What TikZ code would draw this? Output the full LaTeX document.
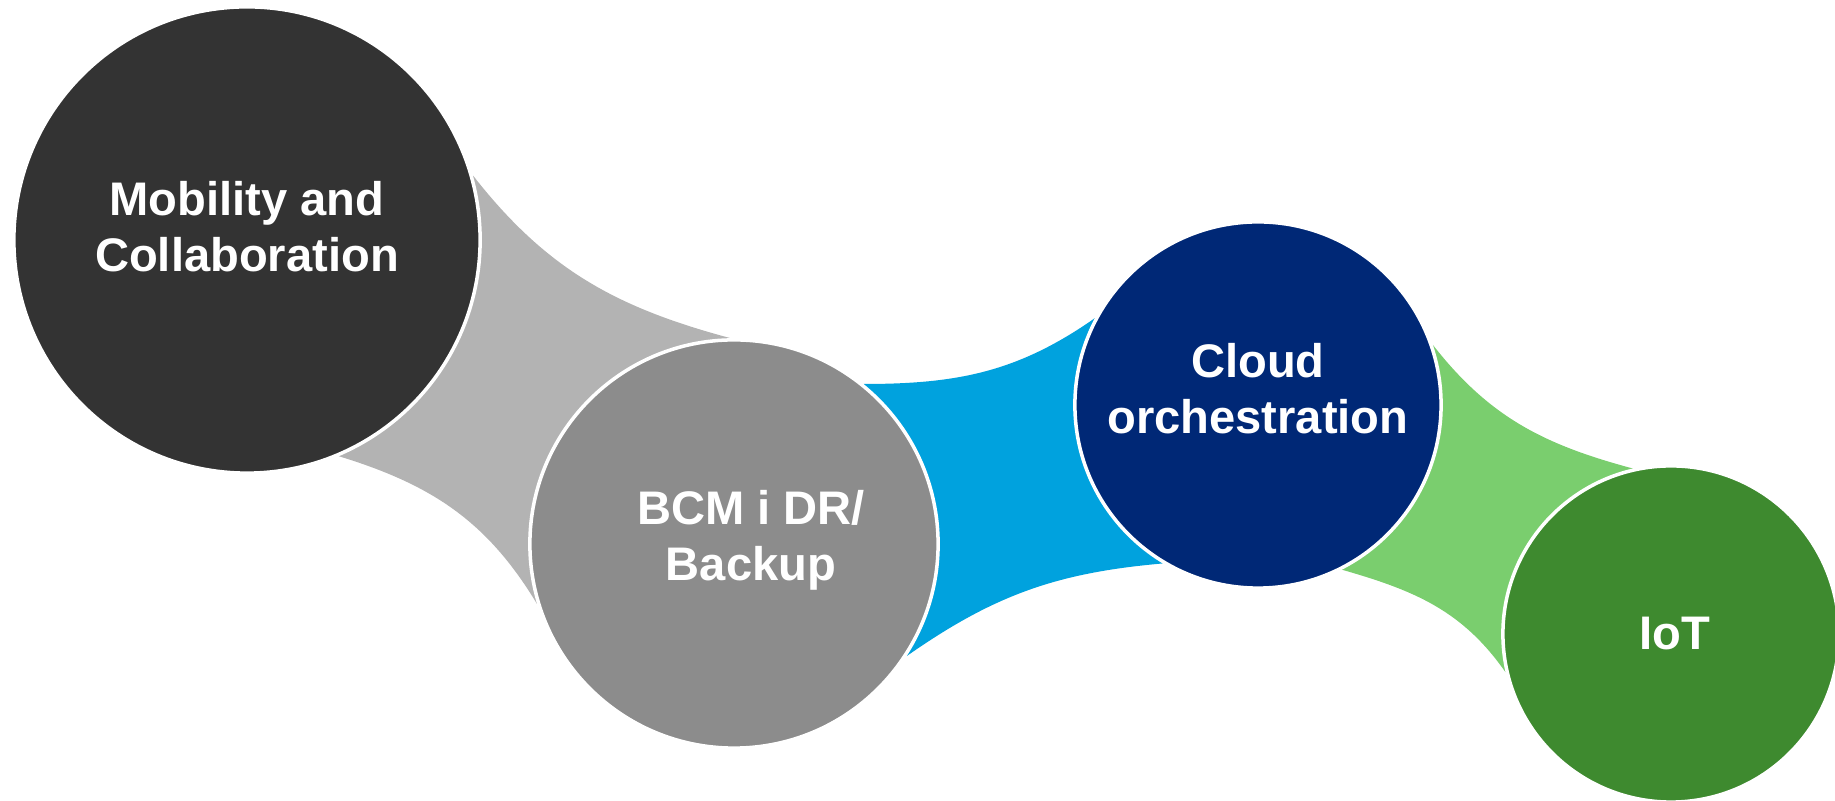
\documentclass[tikz,border=0pt]{standalone}
\usepackage{fontspec}
\setmainfont{Liberation Sans}
\usepackage{tikz}
\usetikzlibrary{backgrounds}

\definecolor{mobgray}{RGB}{51,51,51}
\definecolor{linkgray}{RGB}{179,179,179}
\definecolor{bcmgray}{RGB}{140,140,140}
\definecolor{linkblue}{RGB}{0,162,222}
\definecolor{cloudblue}{RGB}{0,40,118}
\definecolor{linkgreen}{RGB}{122,206,110}
\definecolor{iotgreen}{RGB}{62,138,47}

\tikzset{
  bubble/.style={circle,draw=white,line width=1pt,inner sep=0pt},
  bubbletext/.style={text=white,align=center,font=\bfseries\fontsize{13.4}{16}\selectfont},
}

\begin{document}
\begin{tikzpicture}[line cap=round,line join=round,x=0.01cm,y=0.01cm]
\useasboundingbox (0,0) rectangle (1835,-801);
\clip (0,0) rectangle (1835,-801);

\node[bubble,fill=mobgray,minimum size=4.66cm] (mob) at (247,-240) {};
\node[bubble,fill=bcmgray,minimum size=4.08cm] (bcm) at (734,-544) {};
\node[bubble,fill=cloudblue,minimum size=3.66cm] (cloud) at (1258,-405) {};
\node[bubble,fill=iotgreen,minimum size=3.36cm] (iot) at (1671,-634) {};

% links behind the bubbles
\begin{scope}[on background layer]
\fill[linkgray] (mob.16) to[out=-52,in=165] (bcm.91) -- (bcm.197)
  to[out=121,in=-17] (mob.-67) -- cycle;
\fill[linkblue] (bcm.51) to[out=0,in=215] (cloud.152) -- (cloud.239)
  to[out=185,in=35] (bcm.-33) -- cycle;
\fill[linkgreen] (cloud.19) to[out=-52,in=165] (iot.103) -- (iot.193)
  to[out=125,in=-16] (cloud.-63) -- cycle;
\end{scope}

\node[bubbletext] (mobtxt) at ([yshift=0.13cm]mob.center) {Mobility and\\Collaboration};
\node[bubbletext] (bcmtxt) at ([xshift=0.17cm,yshift=0.04cm]bcm.center) {BCM i DR/\\Backup};
\node[bubbletext] (cloudtxt) at ([yshift=0.16cm]cloud.center) {Cloud\\orchestration};
\node[bubbletext] (iottxt) at ([xshift=0.04cm]iot.center) {IoT};

\end{tikzpicture}
\end{document}
